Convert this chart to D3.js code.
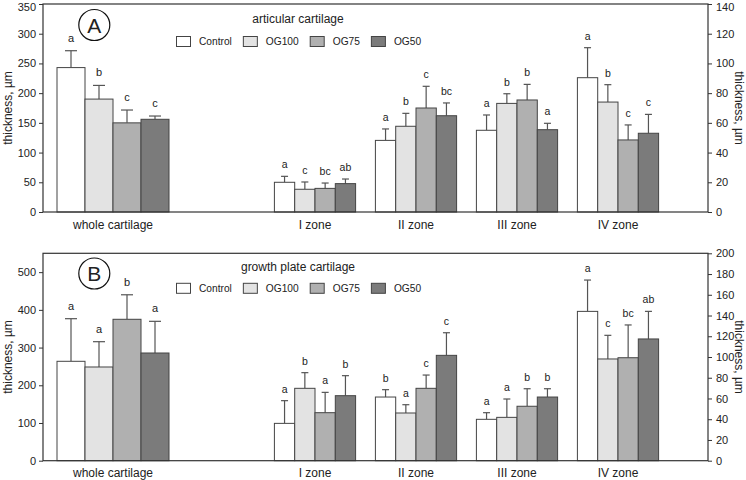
<!DOCTYPE html>
<html><head><meta charset="utf-8">
<script src="https://cdn.jsdelivr.net/npm/d3@7"></script>
<style>
body{margin:0;background:#fff}
text{font-family:"Liberation Sans",Arial,sans-serif;fill:#222}
</style>
</head><body>
<svg id="chart" width="746" height="480"></svg>
<script>
// ---------- data ----------
const categories = ["whole cartilage", "I zone", "II zone", "III zone", "IV zone"];
const series = ["Control", "OG100", "OG75", "OG50"];
const seriesColors = ["#ffffff", "#e3e3e3", "#b0b0b0", "#7b7b7b"];

// Panel A: articular cartilage (whole cartilage on left axis, zones on right axis)
const titleA = "articular cartilage";
const meansA = [
  [243, 20.0, 48.2, 55.0, 90.4],   // Control
  [190, 15.3, 57.7, 73.1, 74.0],   // OG100
  [150, 15.9, 70.0, 75.4, 48.5],   // OG75
  [156, 19.1, 64.8, 55.4, 53.0]    // OG50
];
const errorsA = [
  [28.4, 4.0, 7.7, 10.3, 20.2],
  [23.0, 4.9, 8.7, 6.5, 11.7],
  [21.6, 3.6, 14.6, 10.5, 10.1],
  [5.5, 3.1, 8.6, 4.3, 12.7]
];
const lettersA = [
  ["a", "a", "a", "a", "a"],
  ["b", "c", "b", "b", "b"],
  ["c", "bc", "c", "b", "c"],
  ["c", "ab", "bc", "a", "c"]
];
const leftTicksA = [0, 50, 100, 150, 200, 250, 300, 350];
const rightTicksA = [0, 20, 40, 60, 80, 100, 120, 140];

// Panel B: growth plate cartilage
const titleB = "growth plate cartilage";
const meansB = [
  [263.6, 36.0, 61.4, 39.9, 144.0],
  [248.5, 69.8, 46.0, 41.8, 98.1],
  [375.0, 46.3, 69.8, 52.5, 99.3],
  [285.6, 62.7, 101.6, 61.4, 117.4]
];
const errorsB = [
  [113.0, 21.9, 7.1, 6.4, 30.2],
  [67.1, 15.1, 8.0, 17.7, 22.8],
  [65.0, 19.6, 12.8, 16.9, 31.6],
  [84.0, 19.3, 21.8, 8.0, 26.6]
];
const lettersB = [
  ["a", "a", "b", "a", "a"],
  ["a", "b", "a", "a", "c"],
  ["b", "a", "c", "b", "bc"],
  ["a", "b", "c", "b", "ab"]
];
const leftTicksB = [0, 100, 200, 300, 400, 500];
const rightTicksB = [0, 20, 40, 60, 80, 100, 120, 140, 160, 180, 200];

const axisTitle = "thickness, µm";

// ---------- drawing ----------
const svg = d3.select("#chart");
const plotLeft = 43, plotRight = 708;

const x = d3.scalePoint()
  .domain([categories[0], "gap", ...categories.slice(1)])
  .range([113, 618]);
const innerWhole = d3.scaleBand().domain(series).range([-56, 56]);
const innerZone = d3.scaleBand().domain(series).range([-40.6, 40.6]);

function drawPanel(cfg) {
  const g = svg.append("g");
  const yL = d3.scaleLinear().domain([0, cfg.leftMax]).range([cfg.bottom, cfg.top]);
  const yR = d3.scaleLinear().domain([0, cfg.rightMax]).range([cfg.bottom, cfg.top]);

  // axes
  const axL = g.append("g").attr("transform", `translate(${plotLeft},0)`)
    .call(d3.axisLeft(yL).tickValues(cfg.leftTicks).tickSize(4).tickPadding(3));
  const axR = g.append("g").attr("transform", `translate(${plotRight},0)`)
    .call(d3.axisRight(yR).tickValues(cfg.rightTicks).tickSize(4).tickPadding(4));
  [axL, axR].forEach(a => {
    a.select(".domain").remove();
    a.selectAll("line").attr("stroke", "#333");
    a.selectAll("text").style("font-size", "11px").attr("fill", "#222");
    // keep labels that sit on the very top edge inside the picture
    a.selectAll(".tick").filter(d => yL(0) - (a === axL ? yL(d) : yR(d)) > cfg.bottom - 8)
      .select("text").attr("dy", "0.6em");
  });

  // bars
  series.forEach((s, si) => {
    categories.forEach((c, ci) => {
      const inner = ci === 0 ? innerWhole : innerZone;
      const y = ci === 0 ? yL : yR;
      const v = cfg.means[si][ci], e = cfg.errors[si][ci];
      const bx = x(c) + inner(s);
      const bw = inner.bandwidth();
      const cx = bx + bw / 2;
      const capW = ci === 0 ? 12 : 7;
      // error bar
      g.append("line").attr("x1", cx).attr("x2", cx)
        .attr("y1", y(v)).attr("y2", y(v + e))
        .attr("stroke", "#555").attr("stroke-width", 1.2);
      g.append("line").attr("x1", cx - capW / 2).attr("x2", cx + capW / 2)
        .attr("y1", y(v + e)).attr("y2", y(v + e))
        .attr("stroke", "#555").attr("stroke-width", 1.2);
      g.append("rect")
        .attr("x", bx).attr("y", y(v))
        .attr("width", bw).attr("height", y(0) - y(v))
        .attr("fill", seriesColors[si]).attr("stroke", "#444").attr("stroke-width", 1);
      g.append("text")
        .attr("x", cx).attr("y", y(v + e) - (ci === 0 ? 9 : 8))
        .attr("text-anchor", "middle")
        .style("font-size", ci === 0 ? "11px" : "10.5px")
        .text(cfg.letters[si][ci]);
    });
  });

  // frame
  g.append("rect").attr("x", plotLeft).attr("y", cfg.top)
    .attr("width", plotRight - plotLeft).attr("height", cfg.bottom - cfg.top)
    .attr("fill", "none").attr("stroke", "#333").attr("stroke-width", 1.2);

  // category labels
  categories.forEach(c => {
    g.append("text").attr("x", x(c)).attr("y", cfg.bottom + 16.5)
      .attr("text-anchor", "middle").style("font-size", "12px").text(c);
  });

  // axis titles
  const mid = (cfg.top + cfg.bottom) / 2;
  g.append("text").attr("transform", `translate(12,${mid}) rotate(-90)`)
    .attr("text-anchor", "middle").style("font-size", "12px").text(axisTitle);
  g.append("text").attr("transform", `translate(735,${mid}) rotate(90)`)
    .attr("text-anchor", "middle").style("font-size", "12px").text(axisTitle);

  // panel letter
  g.append("circle").attr("cx", 94.3).attr("cy", cfg.circleY).attr("r", 15.5)
    .attr("fill", "#fff").attr("stroke", "#111").attr("stroke-width", 1.2);
  g.append("text").attr("x", 94.3).attr("y", cfg.circleY + 7.5)
    .attr("text-anchor", "middle").style("font-size", "21px").attr("fill", "#111").text(cfg.panelLetter);

  // legend
  g.append("text").attr("x", 298).attr("y", cfg.titleY + 4)
    .attr("text-anchor", "middle").style("font-size", "12px").text(cfg.title);
  let lx = 176.5;
  series.forEach((s, si) => {
    g.append("rect").attr("x", lx).attr("y", cfg.legendY - 5)
      .attr("width", 14).attr("height", 10)
      .attr("fill", seriesColors[si]).attr("stroke", "#444").attr("stroke-width", 1);
    const t = g.append("text").attr("x", lx + 22.5).attr("y", cfg.legendY + 3.7)
      .style("font-size", "10.2px").text(s);
    lx += 22.5 + t.node().getComputedTextLength() + 11.5;
  });
}

drawPanel({
  top: 4, bottom: 212, leftMax: 350, rightMax: 140,
  leftTicks: leftTicksA, rightTicks: rightTicksA,
  means: meansA, errors: errorsA, letters: lettersA,
  title: titleA, titleY: 19, legendY: 41.5, circleY: 25, panelLetter: "A"
});
drawPanel({
  top: 253.3, bottom: 460.7, leftMax: 550, rightMax: 200,
  leftTicks: leftTicksB, rightTicks: rightTicksB,
  means: meansB, errors: errorsB, letters: lettersB,
  title: titleB, titleY: 266.7, legendY: 288.3, circleY: 273.5, panelLetter: "B"
});
</script>
</body></html>
